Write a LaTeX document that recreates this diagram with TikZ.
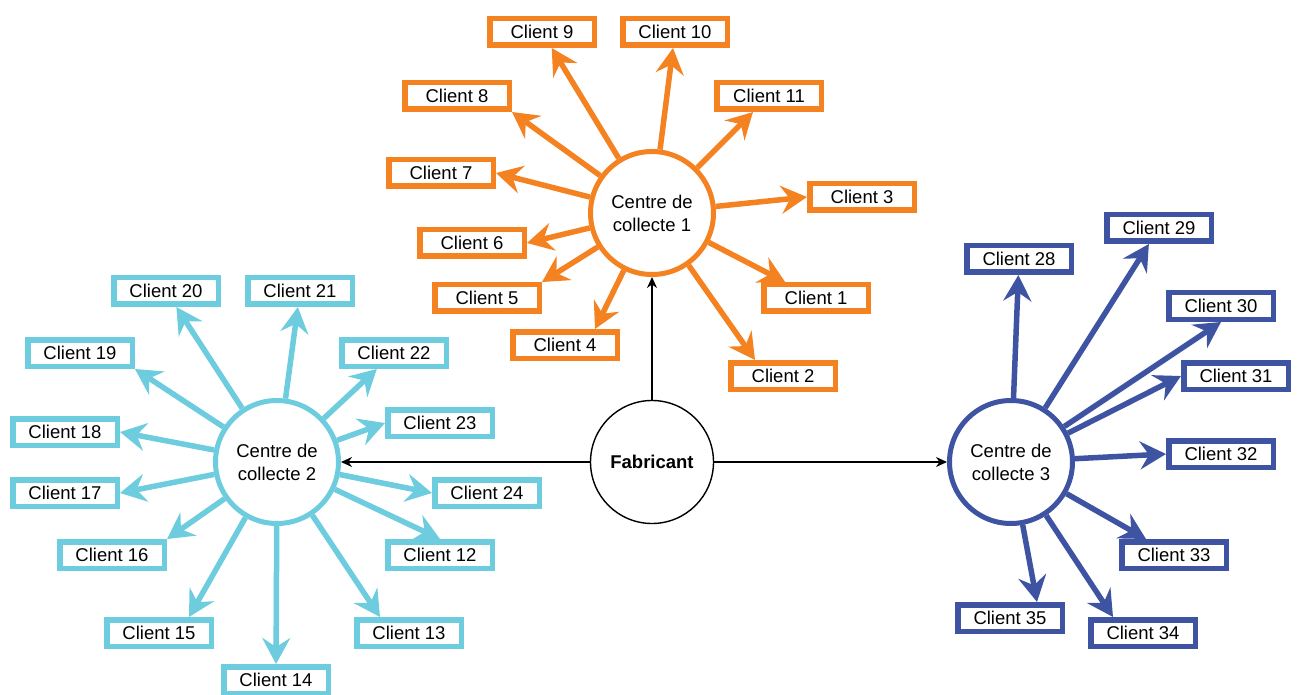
\documentclass[tikz,border=0pt]{standalone}
\usepackage{fontspec}
\setmainfont{Liberation Sans}
\usetikzlibrary{arrows.meta}

\definecolor{orangeC}{RGB}{245,130,32}
\definecolor{cyanC}{RGB}{109,204,221}
\definecolor{blueC}{RGB}{62,84,163}

\begin{document}
\begin{tikzpicture}[x=1pt, y=-1pt, >={Stealth[length=11pt,width=10pt]},
	every node/.style={font=\fontsize{18.5}{23}\selectfont}]
			\tikzstyle{centre} = [draw, line width=5pt, circle, minimum size=123pt, inner sep=0pt, align=center, fill=white]
			\tikzstyle{client} = [draw, line width=5.5pt, minimum width=104.5pt, minimum height=26.5pt, inner sep=0pt, fill=white]
			\tikzstyle{big} = [-{Stealth[length=26pt,width=28pt,inset=9pt]}, line width=5.5pt]
			\useasboundingbox (0,0) rectangle (1302,695);
			% fabricant and the three centres
			\path[->, line width=1.4pt]
			node[draw, circle, line width=1.4pt, minimum size=123pt, inner sep=0pt] (F) at (652,462) {\textbf{Fabricant}}
			node[centre, draw=orangeC] (C1) at (652,213) {Centre de\\collecte 1}
			node[centre, draw=cyanC] (C2) at (277,462) {Centre de\\collecte 2}
			node[centre, draw=blueC] (C3) at (1011,462) {Centre de\\collecte 3}
			(F) edge (C1)
			(F) edge (C2)
			(F) edge (C3)
			;
			% centre 1
			\path[big, orangeC]
			node[client, draw=orangeC, text=black] (K1) at (816,298) {Client 1}
			node[client, draw=orangeC, text=black] (K2) at (783,376) {Client 2}
			node[client, draw=orangeC, text=black] (K3) at (862,197) {Client 3}
			node[client, draw=orangeC, text=black] (K4) at (565,345) {Client 4}
			node[client, draw=orangeC, text=black] (K5) at (487,298) {Client 5}
			node[client, draw=orangeC, text=black] (K6) at (472,243) {Client 6}
			node[client, draw=orangeC, text=black] (K7) at (441,173) {Client 7}
			node[client, draw=orangeC, text=black] (K8) at (457,96) {Client 8}
			node[client, draw=orangeC, text=black] (K9) at (542,32) {Client 9}
			node[client, draw=orangeC, text=black] (K10) at (675,32) {Client 10}
			node[client, draw=orangeC, text=black] (K11) at (769,96) {Client 11}
			(C1) edge (K1)
			(C1) edge ([xshift=-28pt]K2.north)
			(C1) edge (K3.west)
			(C1) edge ([xshift=30pt]K4.north)
			(C1) edge (K5.north east)
			(C1) edge (K6.east)
			(C1) edge (K7.east)
			(C1) edge (K8.south east)
			(C1) edge (K9)
			(C1) edge (K10)
			(C1) edge (K11)
			;
			% centre 2
			\path[big, cyanC]
			node[client, draw=cyanC, text=black] (K12) at (440,555) {Client 12}
			node[client, draw=cyanC, text=black] (K13) at (409,633) {Client 13}
			node[client, draw=cyanC, text=black] (K14) at (276,680) {Client 14}
			node[client, draw=cyanC, text=black] (K15) at (159,633) {Client 15}
			node[client, draw=cyanC, text=black] (K16) at (112,555) {Client 16}
			node[client, draw=cyanC, text=black] (K17) at (65,493) {Client 17}
			node[client, draw=cyanC, text=black] (K18) at (65,432) {Client 18}
			node[client, draw=cyanC, text=black] (K19) at (80,353) {Client 19}
			node[client, draw=cyanC, text=black] (K20) at (166,291) {Client 20}
			node[client, draw=cyanC, text=black] (K21) at (300,291) {Client 21}
			node[client, draw=cyanC, text=black] (K22) at (394,353) {Client 22}
			node[client, draw=cyanC, text=black] (K23) at (440,423) {Client 23}
			node[client, draw=cyanC, text=black] (K24) at (487,493) {Client 24}
			(C2) edge (K12.north)
			(C2) edge ([xshift=-29pt]K13.north)
			(C2) edge (K14)
			(C2) edge ([xshift=30pt]K15.north)
			(C2) edge (K16.north east)
			(C2) edge (K17.east)
			(C2) edge (K18.east)
			(C2) edge (K19.south east)
			(C2) edge (K20)
			(C2) edge (K21)
			(C2) edge (K22)
			(C2) edge (K23.west)
			(C2) edge (K24.west)
			;
			% centre 3
			\path[big, blueC]
			node[client, draw=blueC, text=black] (K28) at (1019,259) {Client 28}
			node[client, draw=blueC, text=black] (K29) at (1159,228) {Client 29}
			node[client, draw=blueC, text=black] (K30) at (1221,306) {Client 30}
			node[client, draw=blueC, text=black] (K31) at (1236,376) {Client 31}
			node[client, draw=blueC, text=black] (K32) at (1221,454) {Client 32}
			node[client, draw=blueC, text=black] (K33) at (1174,555) {Client 33}
			node[client, draw=blueC, text=black] (K34) at (1143,633) {Client 34}
			node[client, draw=blueC, text=black] (K35) at (1010,618) {Client 35}
			(C3) edge (K28)
			(C3) edge (K29)
			(C3) edge (K30.south)
			(C3) edge (K31.west)
			(C3) edge (K32.west)
			(C3) edge (K33)
			(C3) edge ([xshift=-30pt]K34.north)
			(C3) edge ([xshift=27pt]K35.north)
			;
			\end{tikzpicture}
\end{document}
